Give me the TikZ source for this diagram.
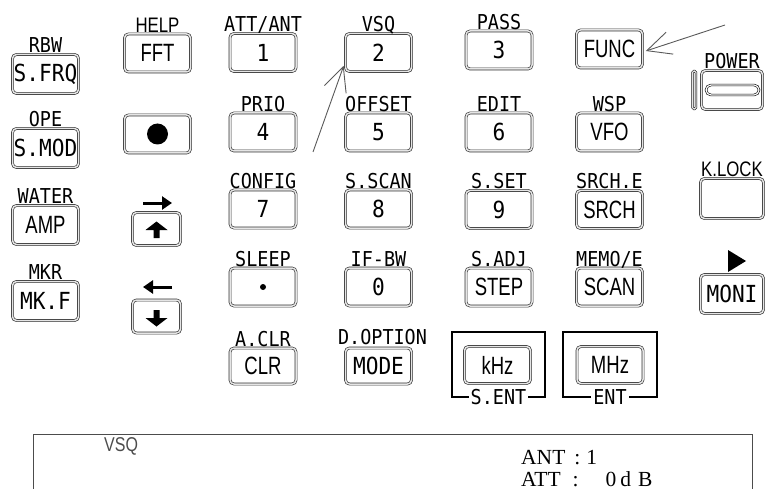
\documentclass[tikz,border=0pt]{standalone}
\usepackage{fontspec}
\usetikzlibrary{arrows.meta}
\newfontfamily\monof{DejaVu Sans Mono}[FakeStretch=0.9]
\newfontfamily\narf{Liberation Sans}[FakeStretch=0.8]
\newfontfamily\narkf{Liberation Sans}[FakeStretch=0.74]
\newfontfamily\serf{Liberation Serif}
\tikzset{
 key/.style={draw=black!80, double=black!10, double distance=1.5pt, line width=0.65pt,
   rounded corners=4pt, inner sep=0pt, minimum width=66pt, minimum height=38pt},
 mk/.style={key, font=\monof\fontsize{23.5}{23.5}\selectfont},
 nk/.style={key, font=\narkf\fontsize{25}{25}\selectfont},
 ml/.style={font=\monof\fontsize{20.5}{20.5}\selectfont, inner sep=0pt, anchor=base},
 nl/.style={font=\narf\fontsize{21}{21}\selectfont, inner sep=0pt, anchor=base},
 ptr/.style={draw=black!65, line width=0.9pt, -{Straight Barb[length=24pt,width=23pt]}},
 brk/.style={line width=1.3pt},
 blab/.style={font=\monof\fontsize{20.5}{20.5}\selectfont, inner sep=2pt},
 glyph/.style={fill=black},
 disp/.style={font=\serf\fontsize{21.5}{21.5}\selectfont, anchor=base west, inner sep=0pt},
}
\begin{document}
\begin{tikzpicture}[x=1pt,y=-1pt]
\useasboundingbox (0,0) rectangle (765,489);
% column A
\node[mk, minimum height=39pt] (kfrq) at (45.5,74) {S.FRQ};
\node[mk, minimum height=39pt] (kmod) at (45.5,148) {S.MOD};
\node[nk, minimum height=39pt] (kamp) at (45.5,225) {AMP};
\node[mk, minimum height=39pt] (kmkf) at (45.5,301) {MK.F};
\node[ml] at ([yshift=1.5pt]kfrq.north) {RBW};
\node[ml] at ([yshift=1.5pt]kmod.north) {OPE};
\node[ml] at ([yshift=1.5pt]kamp.north) {WATER};
\node[ml] at ([yshift=1.5pt]kmkf.north) {MKR};
% column B
\node[nk] (kfft) at (157.5,53) {FFT};
\node[nl] at ([yshift=1.5pt]kfft.north) {HELP};
\node[key] (kdot) at (157.5,134) {};
\fill (kdot.center) circle (10.5pt);
\node[key, minimum width=48pt, minimum height=33pt] (kup) at (156.5,229) {};
\node[key, minimum width=48pt, minimum height=33pt] (kdn) at (156.5,316.5) {};
\begin{scope}[shift={(kup.center)}]
 \fill[glyph] (0,-7.5) -- (11,1) -- (3,1) -- (3,9) -- (-3,9) -- (-3,1) -- (-11,1) -- cycle;
\end{scope}
\begin{scope}[shift={(kdn.center)}]
 \fill[glyph] (0,10) -- (11,1.5) -- (3,1.5) -- (3,-6.5) -- (-3,-6.5) -- (-3,1.5) -- (-11,1.5) -- cycle;
\end{scope}
\draw[line width=3pt, -{Triangle[length=10pt,width=13pt]}] (143,203) -- (172,203);
\draw[line width=3pt, -{Triangle[length=10pt,width=13pt]}] (172,287) -- (143,287);
% column C
\node[mk] (k1) at (263,52.5) {1};
\node[mk] (k4) at (263,132) {4};
\node[mk] (k7) at (263,209) {7};
\node[mk] (kpt) at (263,287) {};
\fill (kpt.center) circle (3pt);
\node[nk, minimum height=36pt] (kclr) at (263,366) {CLR};
\node[ml] at ([yshift=1.5pt]k1.north) {ATT/ANT};
\node[ml] at ([yshift=1.5pt]k4.north) {PRIO};
\node[ml] at ([yshift=1.5pt]k7.north) {CONFIG};
\node[ml] at ([yshift=1.5pt]kpt.north) {SLEEP};
\node[ml] at ([yshift=1.5pt]kclr.north) {A.CLR};
% column D
\node[mk] (k2) at (378.5,52.5) {2};
\node[mk] (k5) at (378.5,132) {5};
\node[mk] (k8) at (378.5,209) {8};
\node[mk] (k0) at (378.5,287) {0};
\node[mk, minimum height=36pt] (kmode) at (378.5,366) {MODE};
\node[ml] at ([yshift=1.5pt]k2.north) {VSQ};
\node[ml] at ([yshift=1.5pt]k5.north) {OFFSET};
\node[ml] at ([yshift=1.5pt]k8.north) {S.SCAN};
\node[ml] at ([yshift=1.5pt]k0.north) {IF-BW};
\node[ml] at ([xshift=4pt,yshift=3pt]kmode.north) {D.OPTION};
% column E
\node[mk] (k3) at (499,50) {3};
\node[mk] (k6) at (499,132) {6};
\node[mk] (k9) at (499,209.5) {9};
\node[nk] (kstep) at (499,287) {STEP};
\node[ml] at ([yshift=1.5pt]k3.north) {PASS};
\node[ml] at ([yshift=1.5pt]k6.north) {EDIT};
\node[ml] at ([yshift=1.5pt]k9.north) {S.SET};
\node[ml] at ([yshift=1.5pt]kstep.north) {S.ADJ};
% column F
\node[nk] (kfunc) at (609.5,49) {FUNC};
\node[nk] (kvfo) at (609.5,132) {VFO};
\node[nk] (ksrch) at (609.5,209.5) {SRCH};
\node[nk] (kscan) at (609.5,287) {SCAN};
\node[ml] at ([yshift=1.5pt]kvfo.north) {WSP};
\node[ml] at ([yshift=1.5pt]ksrch.north) {SRCH.E};
\node[ml] at ([yshift=1.5pt]kscan.north) {MEMO/E};
% kHz / MHz
\node[nk, minimum height=37pt] (kkhz) at (497.5,365) {kHz};
\node[nk, minimum height=37pt] (kmhz) at (610,365) {MHz};
\node[blab] (sent) at (498.5,397) {S.ENT};
\node[blab] (ent) at (610,397) {ENT};
\draw[brk] (sent.west) -- (452,397) -- (452,332) -- (545,332) -- (545,397) -- (sent.east);
\draw[brk] (ent.west) -- (563,397) -- (563,332) -- (657,332) -- (657,397) -- (ent.east);
% column G
\node[key, minimum width=61pt, minimum height=39pt] (kpow) at (732,90) {};
\node[ml] at ([yshift=1.5pt]kpow.north) {POWER};
\draw[line width=0.6pt, double=black!10, double distance=1.2pt, rounded corners=1.5pt] (692.5,71) rectangle (696,109);
\draw[line width=0.6pt, double=white, double distance=1.2pt, rounded corners=5pt] (706,85) rectangle (759,95);
\node[key, minimum width=63pt, minimum height=40pt] (klock) at (732,198.5) {};
\node[nl] at ([yshift=1.5pt]klock.north) {K.LOCK};
\node[mk, minimum width=63pt, minimum height=39pt] (kmoni) at (732,294) {MONI};
\fill (728,250) -- (746,261) -- (728,272) -- cycle;
% pointers
\coordinate (vtail) at (313,152);
\draw[ptr] (vtail) -- ([xshift=-1.5pt,yshift=6pt]k2.south west);
\coordinate (ftail) at (725,25);
\draw[ptr] (ftail) -- ([xshift=3pt,yshift=-2pt]kfunc.east);
% display
\draw[line width=0.8pt, black!70] (33,500) -- (33,434) -- (752,434) -- (752,500);
\node[font=\narf\fontsize{20}{20}\selectfont, text=black!70, anchor=base west, inner sep=0pt] (dvsq) at (104,451) {VSQ};
\node[disp] (dant) at (521,464) {ANT\hspace{9pt}:\hspace{6pt}1};
\node[disp] (datt) at (521,486) {ATT\hspace{12pt}:\hspace{27pt}0\hspace{4pt}d\hspace{7pt}B};
\end{tikzpicture}
\end{document}
